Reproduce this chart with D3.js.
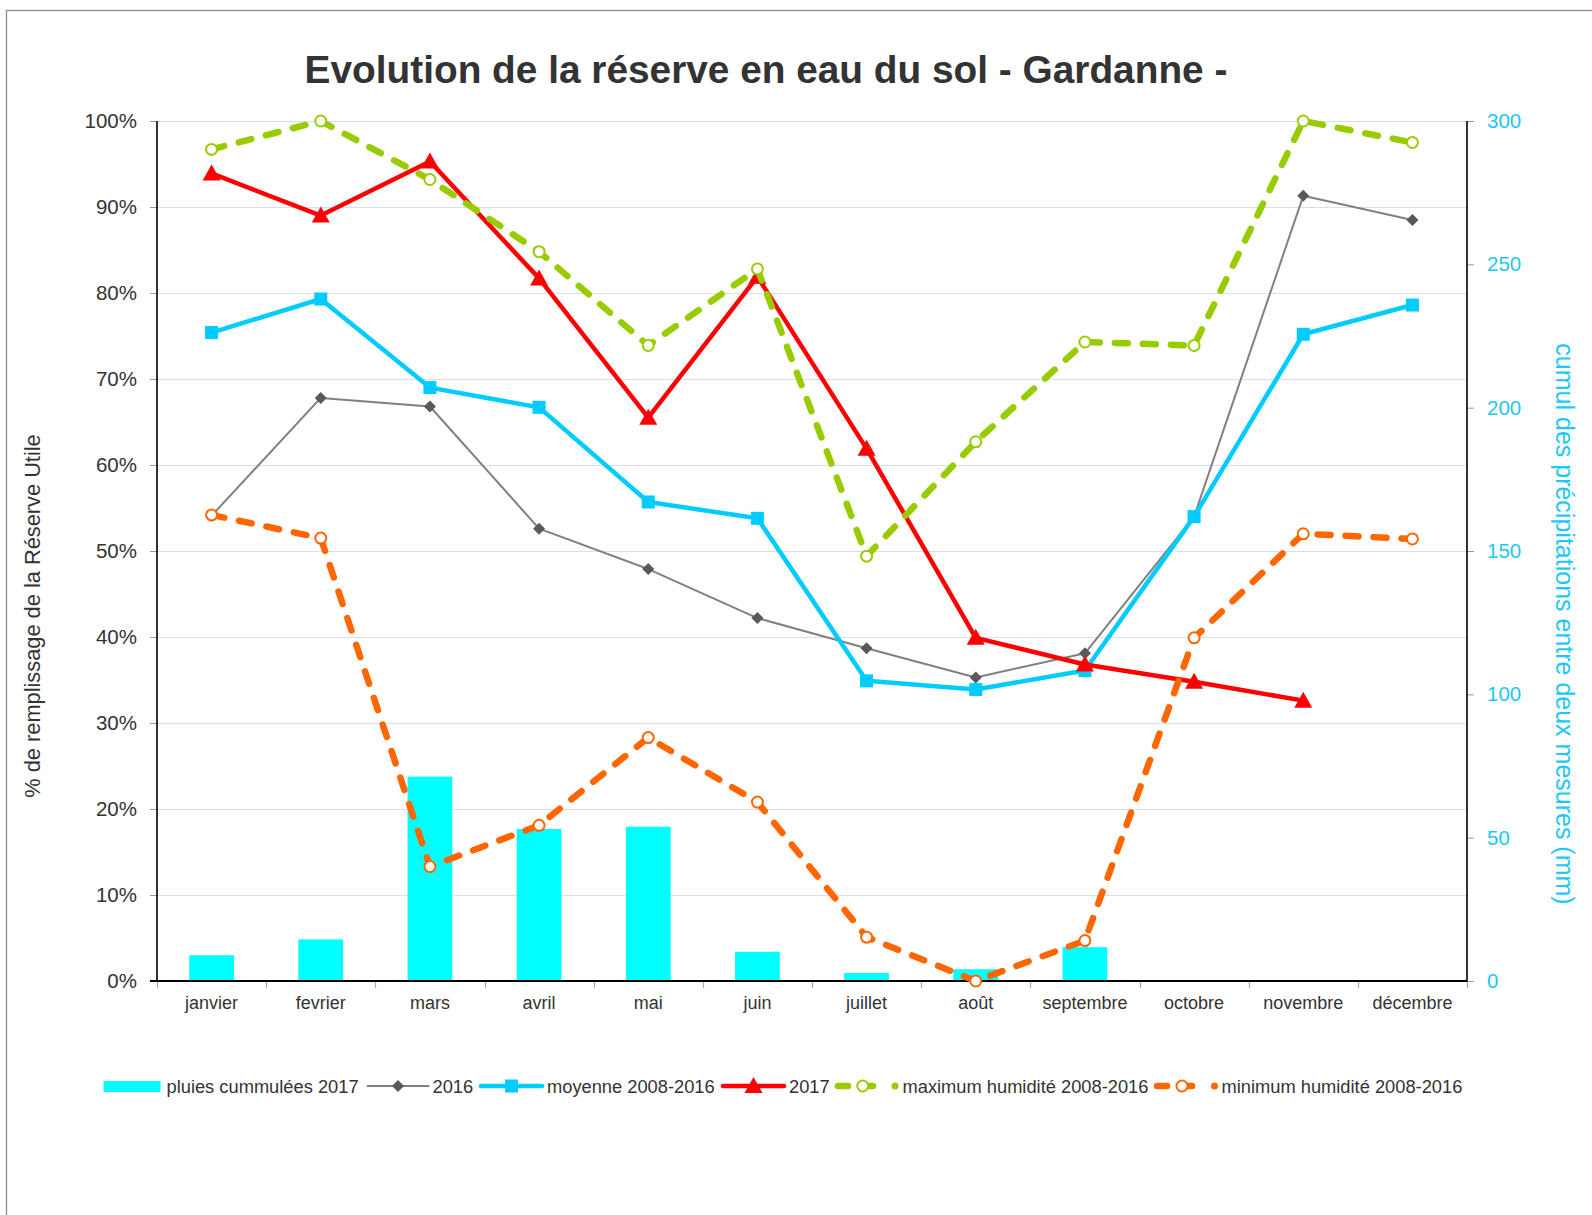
<!DOCTYPE html>
<html>
<head>
<meta charset="utf-8">
<script src="https://cdn.jsdelivr.net/npm/d3@7"></script>
<style>
  html, body { margin: 0; padding: 0; background: #fff; }
  svg { display: block; font-family: "Liberation Sans", Arial, sans-serif; }
</style>
</head>
<body>
<svg id="chart" width="1592" height="1215"></svg>
<script>
// Monthly soil water reserve (% of useful reserve) and cumulated rainfall (mm)
const months = ["janvier", "fevrier", "mars", "avril", "mai", "juin", "juillet", "août", "septembre", "octobre", "novembre", "décembre"];
const pluies2017 = [9.0, 14.5, 71.3, 53.0, 53.8, 10.2, 2.8, 4.1, 11.8, null, null, null];
const annee2016 = [54.1, 67.8, 66.8, 52.6, 47.9, 42.2, 38.7, 35.3, 38.1, 54.0, 91.3, 88.5];
const moyenne = [75.4, 79.3, 69.0, 66.7, 55.7, 53.8, 34.9, 33.9, 36.1, 54.0, 75.2, 78.6];
const annee2017 = [93.9, 89.0, 95.3, 81.7, 65.5, 81.9, 61.9, 39.9, 36.8, 34.8, 32.6, null];
const maxHumidite = [96.7, 100, 93.2, 84.8, 73.9, 82.8, 49.4, 62.7, 74.3, 73.9, 100, 97.5];
const minHumidite = [54.2, 51.5, 13.3, 18.1, 28.3, 20.8, 5.1, 0, 4.7, 39.9, 52.0, 51.4];
const leftTicks = [0, 10, 20, 30, 40, 50, 60, 70, 80, 90, 100];
const rightTicks = [0, 50, 100, 150, 200, 250, 300];

const svg = d3.select("#chart");
const plot = { left: 157, right: 1467, top: 121, bottom: 981 };

// Outer frame (only top and left edges fall inside the page)
svg.append("rect")
  .attr("x", 6.5).attr("y", 10.5).attr("width", 2000).attr("height", 2000)
  .attr("fill", "none").attr("stroke", "#8c8c8c").attr("stroke-width", 1.3);

const x = d3.scaleBand().domain(months).range([plot.left, plot.right]).paddingInner(0).paddingOuter(0);
const yL = d3.scaleLinear().domain([0, 100]).range([plot.bottom, plot.top]);
const yR = d3.scaleLinear().domain([0, 300]).range([plot.bottom, plot.top]);

// Title
svg.append("text")
  .attr("x", 766).attr("y", 83)
  .attr("text-anchor", "middle")
  .attr("font-size", 38.8).attr("font-weight", "bold").attr("fill", "#333")
  .text("Evolution de la réserve en eau du sol - Gardanne -");

// Horizontal grid
svg.append("g").selectAll("line")
  .data(leftTicks.filter(d => d > 0))
  .join("line")
  .attr("x1", plot.left).attr("x2", plot.right)
  .attr("y1", d => Math.round(yL(d)) + 0.5).attr("y2", d => Math.round(yL(d)) + 0.5)
  .attr("stroke", "#dcdcf2").attr("stroke-width", 1);

// Rainfall bars (right axis)
const barW = x.bandwidth() * 0.41;
svg.append("g").selectAll("rect")
  .data(months.map((m, i) => ({ m, v: pluies2017[i] })).filter(d => d.v != null))
  .join("rect")
  .attr("x", d => x(d.m) + (x.bandwidth() - barW) / 2)
  .attr("width", barW)
  .attr("y", d => yR(d.v))
  .attr("height", d => yR(0) - yR(d.v))
  .attr("fill", "#00ffff");

// Left axis
const axL = svg.append("g").attr("transform", `translate(${plot.left},0)`)
  .call(d3.axisLeft(yL).tickValues(leftTicks).tickFormat(d => d + "%").tickSize(7).tickPadding(13));
axL.select(".domain").remove();
axL.selectAll(".tick line").attr("stroke", "#999");
axL.selectAll(".tick text").attr("font-size", 20.5).attr("fill", "#333").attr("font-family", "Liberation Sans, Arial, sans-serif");

// Right axis
const axR = svg.append("g").attr("transform", `translate(${plot.right},0)`)
  .call(d3.axisRight(yR).tickValues(rightTicks).tickSize(7).tickPadding(13));
axR.select(".domain").remove();
axR.selectAll(".tick line").attr("stroke", "#999");
axR.selectAll(".tick text").attr("font-size", 20.5).attr("fill", "#1ec8f5").attr("font-family", "Liberation Sans, Arial, sans-serif");

// Bottom axis: ticks at category boundaries
const bounds = months.map(m => x(m)).concat([plot.right]);
svg.append("g").selectAll("line")
  .data(bounds)
  .join("line")
  .attr("x1", d => Math.round(d) + 0.5).attr("x2", d => Math.round(d) + 0.5)
  .attr("y1", plot.bottom).attr("y2", plot.bottom + 7)
  .attr("stroke", "#aaa").attr("stroke-width", 1.2);
svg.append("g").selectAll("text")
  .data(months)
  .join("text")
  .attr("x", d => x(d) + x.bandwidth() / 2)
  .attr("y", 1009)
  .attr("text-anchor", "middle")
  .attr("font-size", 18).attr("fill", "#333")
  .text(d => d);

// Axis lines
svg.append("line").attr("x1", plot.left).attr("x2", plot.left).attr("y1", plot.top).attr("y2", plot.bottom + 0.5)
  .attr("stroke", "#000").attr("stroke-width", 1.6);
svg.append("line").attr("x1", plot.right).attr("x2", plot.right).attr("y1", plot.top).attr("y2", plot.bottom + 0.5)
  .attr("stroke", "#000").attr("stroke-width", 1.6);
svg.append("line").attr("x1", plot.left - 7).attr("x2", plot.right).attr("y1", plot.bottom).attr("y2", plot.bottom)
  .attr("stroke", "#000").attr("stroke-width", 1.8);

// Axis titles
svg.append("text")
  .attr("transform", "translate(40,616) rotate(-90)")
  .attr("text-anchor", "middle")
  .attr("font-size", 21.8).attr("fill", "#333")
  .text("% de remplissage de la Réserve Utile");
svg.append("text")
  .attr("transform", "translate(1556,624) rotate(90)")
  .attr("text-anchor", "middle")
  .attr("font-size", 25).attr("fill", "#1ec8f5")
  .text("cumul des précipitations entre deux mesures (mm)");

// Series definitions
const cx = m => x(m) + x.bandwidth() / 2;
const marker = {
  diamond: (g, c) => g.append("path").attr("d", d3.symbol(d3.symbolSquare, 72)()).attr("transform", "rotate(45)").attr("fill", c),
  square: (g, c) => g.append("rect").attr("x", -6.5).attr("y", -6.5).attr("width", 13).attr("height", 13).attr("fill", c),
  triangle: (g, c) => g.append("path").attr("d", "M0,-9 L9,7 L-9,7 Z").attr("fill", c),
  circle: (g, c) => g.append("circle").attr("r", 5.5).attr("fill", "#fff").attr("stroke", c).attr("stroke-width", 2)
};

const series = [
  { name: "2016", values: annee2016, color: "#808080", mcolor: "#595959", width: 2, dash: null, marker: "diamond" },
  { name: "moyenne 2008-2016", values: moyenne, color: "#00ccff", mcolor: "#00ccff", width: 4.5, dash: null, marker: "square" },
  { name: "2017", values: annee2017, color: "#ff0000", mcolor: "#ff0000", width: 4.5, dash: null, marker: "triangle" },
  { name: "maximum humidité 2008-2016", values: maxHumidite, color: "#99cc00", mcolor: "#99cc00", width: 6.5, dash: "13,15", marker: "circle" },
  { name: "minimum humidité 2008-2016", values: minHumidite, color: "#ff6600", mcolor: "#ff6600", width: 6.5, dash: "13,15", marker: "circle" }
];

series.forEach(s => {
  const pts = months.map((m, i) => ({ m, v: s.values[i] })).filter(d => d.v != null);
  const line = d3.line().x(d => cx(d.m)).y(d => yL(d.v));
  const g = svg.append("g");
  g.append("path")
    .attr("d", line(pts))
    .attr("fill", "none")
    .attr("stroke", s.color)
    .attr("stroke-width", s.width)
    .attr("stroke-linecap", s.dash ? "round" : "butt")
    .attr("stroke-linejoin", "round")
    .attr("stroke-dasharray", s.dash);
  pts.forEach(d => {
    const mg = g.append("g").attr("transform", `translate(${cx(d.m)},${yL(d.v)})`);
    marker[s.marker](mg, s.mcolor);
  });
});

// Legend
const legY = 1086;
const leg = svg.append("g");
leg.append("rect").attr("x", 103.5).attr("y", legY - 5).attr("width", 57).attr("height", 11).attr("fill", "#00ffff");
const legendItems = [
  { text: "pluies cummulées 2017", tx: 166.5, s: null },
  { text: "2016", tx: 432.5, s: series[0], lx: [367.5, 428.5] },
  { text: "moyenne 2008-2016", tx: 547, s: series[1], lx: [481, 542] },
  { text: "2017", tx: 789, s: series[2], lx: [723, 784] },
  { text: "maximum humidité 2008-2016", tx: 902.5, s: series[3], lx: [835, 898.5] },
  { text: "minimum humidité 2008-2016", tx: 1221.5, s: series[4], lx: [1154, 1218] }
];
legendItems.forEach(it => {
  if (it.s) {
    const s = it.s;
    const [a, b] = it.lx;
    let mx = (a + b) / 2;
    if (s.dash) {
      // short dash, marker crossed by a dash, then a dot
      leg.append("line").attr("x1", a + 3).attr("x2", a + 13).attr("y1", legY).attr("y2", legY)
        .attr("stroke", s.color).attr("stroke-width", 6.5).attr("stroke-linecap", "round");
      leg.append("line").attr("x1", a + 27).attr("x2", a + 38).attr("y1", legY).attr("y2", legY)
        .attr("stroke", s.color).attr("stroke-width", 6.5).attr("stroke-linecap", "round");
      leg.append("circle").attr("cx", b - 3.5).attr("cy", legY).attr("r", 3.5).attr("fill", s.color);
      mx -= 4;
    } else {
      leg.append("line").attr("x1", a).attr("x2", b).attr("y1", legY).attr("y2", legY)
        .attr("stroke", s.color).attr("stroke-width", s.width).attr("stroke-linecap", "round");
    }
    const mg = leg.append("g").attr("transform", `translate(${mx},${legY})`);
    marker[s.marker](mg, s.mcolor);
  }
  leg.append("text").attr("x", it.tx).attr("y", legY + 6.5)
    .attr("font-size", 18.3).attr("fill", "#333").text(it.text);
});
</script>
</body>
</html>
